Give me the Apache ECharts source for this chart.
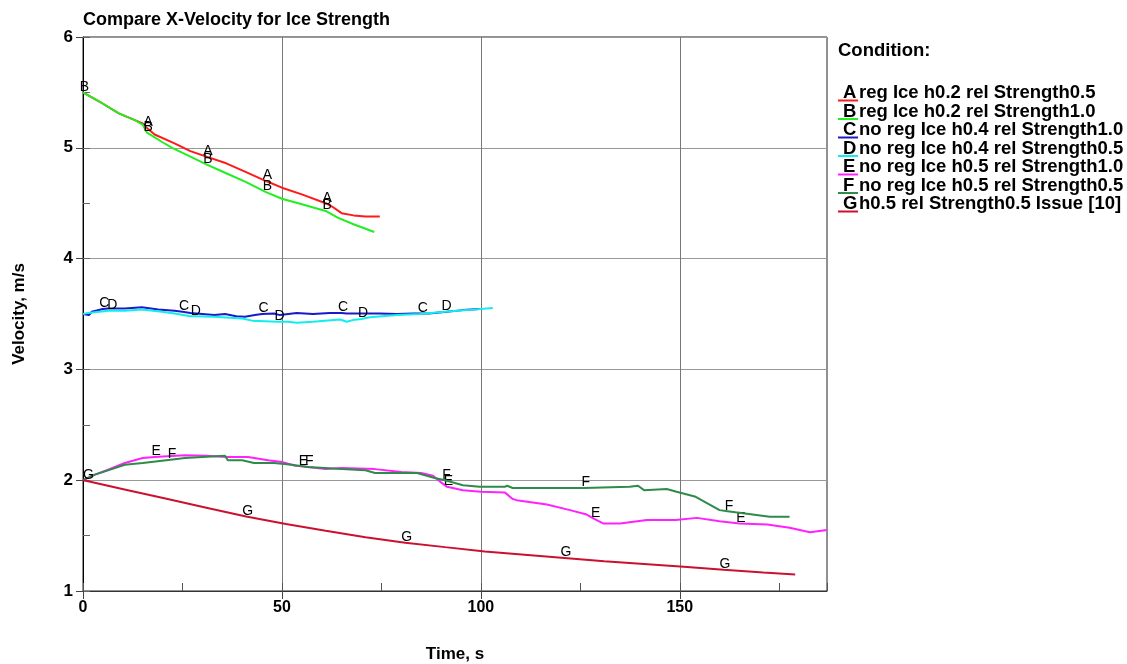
<!DOCTYPE html>
<html>
<head>
<meta charset="utf-8">
<title>Compare X-Velocity for Ice Strength</title>
<script src="https://cdn.jsdelivr.net/npm/echarts@6/dist/echarts.min.js"></script>
<style>
  html, body { margin: 0; padding: 0; background: #ffffff; }
  #chart { width: 1127px; height: 664px; }
</style>
</head>
<body>
<div id="chart"></div>
<script>
// ---- Velocity histories (time in s, velocity in m/s) ----
const timeA = [0, 4, 9, 15, 16, 18, 23, 27, 31, 36, 41, 46, 50, 55, 61, 62.6, 65, 68, 71, 74.6];
const velA  = [5.50, 5.42, 5.31, 5.22, 5.18, 5.12, 5.04, 4.97, 4.92, 4.86, 4.78, 4.70, 4.64, 4.58, 4.50, 4.47, 4.41, 4.39, 4.38, 4.38];

const timeB = [0, 4, 9, 13, 15, 16, 20, 22.4, 27, 31, 36, 41, 46, 50, 55, 61, 64, 68, 73.2];
const velB  = [5.50, 5.42, 5.31, 5.25, 5.21, 5.14, 5.05, 5.00, 4.92, 4.85, 4.77, 4.69, 4.60, 4.54, 4.49, 4.43, 4.37, 4.31, 4.24];

const timeC = [0, 1.5, 2.2, 5, 6.3, 10.5, 14.8, 18.9, 23, 25, 27, 30, 33, 35.7, 38.5, 40.7, 43.2, 45, 48, 49.5, 53.7, 57.8, 62, 65, 66.3, 74.6, 78.9, 83, 85, 87, 91.4, 95.5, 99.7];
const velC  = [3.50, 3.49, 3.52, 3.545, 3.55, 3.55, 3.56, 3.54, 3.53, 3.52, 3.51, 3.50, 3.49, 3.50, 3.48, 3.475, 3.49, 3.50, 3.505, 3.49, 3.51, 3.50, 3.51, 3.51, 3.505, 3.505, 3.50, 3.505, 3.505, 3.505, 3.52, 3.535, 3.545];

const timeD = [0, 1.3, 6.3, 7, 10.5, 14.8, 19.8, 23, 27, 28, 33, 40, 42.5, 49, 51.5, 53.7, 57.8, 64.6, 66.3, 67.8, 70, 72.1, 78.9, 84.7, 91, 96.5, 103];
const velD  = [3.50, 3.51, 3.53, 3.53, 3.53, 3.54, 3.52, 3.505, 3.48, 3.48, 3.475, 3.46, 3.44, 3.43, 3.43, 3.42, 3.43, 3.45, 3.43, 3.445, 3.455, 3.47, 3.49, 3.50, 3.52, 3.535, 3.555];

const timeE = [0, 3, 6, 10.5, 15, 18, 25.6, 31, 36, 41.5, 46.5, 50, 53.3, 55, 56.5, 61, 65, 73.4, 80, 85, 88, 90, 91.5, 95.5, 100, 106, 108, 109, 116.6, 122.4, 126.6, 128.5, 130.7, 135, 141.7, 149, 154.3, 160, 165, 172, 177.6, 182.7, 187];
const velE  = [2.00, 2.05, 2.09, 2.155, 2.20, 2.21, 2.225, 2.22, 2.21, 2.21, 2.18, 2.165, 2.13, 2.125, 2.12, 2.10, 2.11, 2.10, 2.075, 2.065, 2.04, 1.98, 1.94, 1.91, 1.895, 1.89, 1.83, 1.82, 1.78, 1.73, 1.69, 1.65, 1.61, 1.61, 1.64, 1.64, 1.66, 1.63, 1.61, 1.60, 1.57, 1.53, 1.55];

const timeF = [0, 3, 10.5, 15, 22, 25.6, 35.7, 36.4, 40, 43, 48, 52.5, 56.5, 65, 71, 73.4, 84, 88.4, 91, 95.5, 99.7, 106, 106.6, 108, 126, 137.4, 139.5, 141, 146.7, 149.2, 154, 160, 162, 164, 172.6, 177.6];
const velF  = [2.00, 2.05, 2.14, 2.155, 2.185, 2.20, 2.22, 2.18, 2.18, 2.155, 2.155, 2.14, 2.12, 2.10, 2.09, 2.065, 2.065, 2.02, 2.00, 1.955, 1.94, 1.94, 1.95, 1.93, 1.93, 1.94, 1.95, 1.91, 1.92, 1.895, 1.85, 1.73, 1.72, 1.71, 1.67, 1.67];

const timeG = [0, 1, 11, 21, 31, 41, 51, 61, 71, 81, 91, 101, 111, 121, 131, 141, 151, 161, 171, 179];
const velG  = [2.00, 1.992, 1.912, 1.832, 1.752, 1.672, 1.604, 1.544, 1.485, 1.436, 1.396, 1.357, 1.327, 1.297, 1.268, 1.243, 1.218, 1.192, 1.168, 1.15];

// Times at which each curve carries its identifying letter
const letterTimesA = [16, 31, 46, 61];
const letterTimesB = [0, 16, 31, 46, 61];
const letterTimesC = [5, 25, 45, 65, 85];
const letterTimesD = [7, 28, 49, 70, 91];
const letterTimesE = [18, 55, 91.5, 128.5, 165];
const letterTimesF = [22, 56.5, 91, 126, 162];
const letterTimesG = [1, 41, 81, 121, 161];

const letters = ['A', 'B', 'C', 'D', 'E', 'F', 'G'];
const conditionNames = [
  'reg Ice h0.2 rel Strength0.5',
  'reg Ice h0.2 rel Strength1.0',
  'no reg Ice h0.4 rel Strength1.0',
  'no reg Ice h0.4 rel Strength0.5',
  'no reg Ice h0.5 rel Strength1.0',
  'no reg Ice h0.5 rel Strength0.5',
  'h0.5 rel Strength0.5 Issue [10]'
];
const lineColors = ['#ff1a1a', '#22ee22', '#1a1acc', '#11eeee', '#ff22ff', '#2e8b4a', '#cc1030'];

const xTickValues = [0, 50, 100, 150];
const yTickValues = [1, 2, 3, 4, 5, 6];

const times = [timeA, timeB, timeC, timeD, timeE, timeF, timeG];
const vels = [velA, velB, velC, velD, velE, velF, velG];
const letterTimes = [letterTimesA, letterTimesB, letterTimesC, letterTimesD, letterTimesE, letterTimesF, letterTimesG];

const FONT = 'Liberation Sans, Arial, sans-serif';
const NARROW = 'Liberation Sans Narrow, Arial Narrow, sans-serif';

function nearestIndex(arr, t) {
  let best = 0;
  for (let i = 1; i < arr.length; i++) {
    if (Math.abs(arr[i] - t) < Math.abs(arr[best] - t)) best = i;
  }
  return best;
}

// Letter tags sit just above the curve point they mark
const letterLabel = {
  position: [2, -5],
  align: 'center',
  verticalAlign: 'middle',
  color: '#000',
  fontFamily: FONT,
  fontSize: 14
};

const series = letters.map((letter, k) => {
  const tagged = new Set(letterTimes[k].map(t => nearestIndex(times[k], t)));
  const data = times[k].map((t, i) => {
    const item = { value: [t, vels[k][i]] };
    if (tagged.has(i)) {
      item.label = Object.assign({ show: true, formatter: letter }, letterLabel);
    }
    return item;
  });
  return {
    name: conditionNames[k],
    type: 'line',
    xAxisIndex: 0,
    yAxisIndex: 0,
    data: data,
    symbol: 'circle',
    symbolSize: 1,
    showSymbol: true,
    showAllSymbol: true,
    itemStyle: { color: 'rgba(0,0,0,0)', borderWidth: 0 },
    lineStyle: { color: lineColors[k], width: 2 },
    label: Object.assign({ show: false }, letterLabel),
    labelLayout: { hideOverlap: false },
    silent: true,
    emphasis: { disabled: true },
    animation: false,
    z: 3 + k
  };
});

// Legend block on the right: heading plus one underlined letter per condition
const LEGEND_FONT = 'bold 18.5px ' + FONT;
const legendGraphics = [{
  type: 'text',
  x: 838,
  y: 41,
  style: { text: 'Condition:', font: LEGEND_FONT, fill: '#000' }
}];
letters.forEach((letter, k) => {
  const y = 83.5 + k * 18.5;
  legendGraphics.push({
    type: 'line',
    shape: { x1: 838, y1: y + 17, x2: 858, y2: y + 17 },
    style: { stroke: lineColors[k], lineWidth: 2 }
  });
  legendGraphics.push({
    type: 'text',
    x: 843, y: y,
    style: { text: letter, font: LEGEND_FONT, fill: '#000' }
  });
  legendGraphics.push({
    type: 'text',
    x: 859, y: y,
    style: { text: conditionNames[k], font: LEGEND_FONT, fill: '#000' }
  });
});

const chart = echarts.init(document.getElementById('chart'), null, { renderer: 'canvas' });
chart.setOption({
  animation: false,
  backgroundColor: '#ffffff',
  title: {
    text: 'Compare X-Velocity for Ice Strength',
    left: 78,
    top: 6,
    textStyle: { fontFamily: FONT, fontWeight: 'bold', fontSize: 18, color: '#000' }
  },
  grid: {
    left: 83, top: 37, right: 300, bottom: 73,
    outerBoundsMode: 'none',
    containLabel: false,
    show: true, borderColor: '#222', borderWidth: 1, backgroundColor: 'transparent'
  },
  xAxis: [{
    type: 'value', min: 0, max: 187, interval: 25,
    position: 'bottom',
    axisLine: { show: true, onZero: false, lineStyle: { color: '#333', width: 1 } },
    axisTick: { show: true, inside: true, length: 8, lineStyle: { color: '#555' } },
    splitLine: { show: false },
    axisLabel: {
      margin: 9,
      fontFamily: NARROW, fontWeight: 'bold', fontSize: 16, color: '#000',
      formatter: v => (xTickValues.indexOf(v) >= 0 ? String(v) : '')
    },
    name: 'Time, s',
    nameLocation: 'middle',
    nameGap: 55,
    nameTextStyle: { fontFamily: NARROW, fontWeight: 'bold', fontSize: 17, color: '#000' }
  }, {
    type: 'value', min: 0, max: 187, interval: 50,
    position: 'bottom',
    axisLine: { show: false },
    axisTick: { show: true, inside: false, length: 8, customValues: xTickValues, lineStyle: { color: '#444' } },
    splitLine: { show: true, lineStyle: { color: '#777', width: 1 } },
    axisLabel: { show: false }
  }],
  yAxis: [{
    type: 'value', min: 1, max: 6, interval: 1,
    position: 'left',
    axisLine: { show: true, onZero: false, lineStyle: { color: '#000', width: 1 } },
    axisTick: { show: true, inside: false, length: 7, lineStyle: { color: '#444' } },
    splitLine: { show: true, lineStyle: { color: '#999', width: 1 } },
    axisLabel: {
      margin: 10,
      fontFamily: FONT, fontWeight: 'bold', fontSize: 17, color: '#000',
      formatter: v => (yTickValues.indexOf(v) >= 0 ? String(v) : '')
    },
    name: 'Velocity, m/s',
    nameLocation: 'middle',
    nameGap: 55,
    nameRotate: 90,
    nameTextStyle: { fontFamily: FONT, fontWeight: 'bold', fontSize: 17, color: '#000' }
  }, {
    type: 'value', min: 1, max: 6, interval: 0.5,
    position: 'left',
    axisLine: { show: false },
    axisTick: { show: true, inside: true, length: 7, lineStyle: { color: '#666' } },
    splitLine: { show: false },
    axisLabel: { show: false }
  }],
  series: series,
  graphic: legendGraphics
});
</script>
</body>
</html>
